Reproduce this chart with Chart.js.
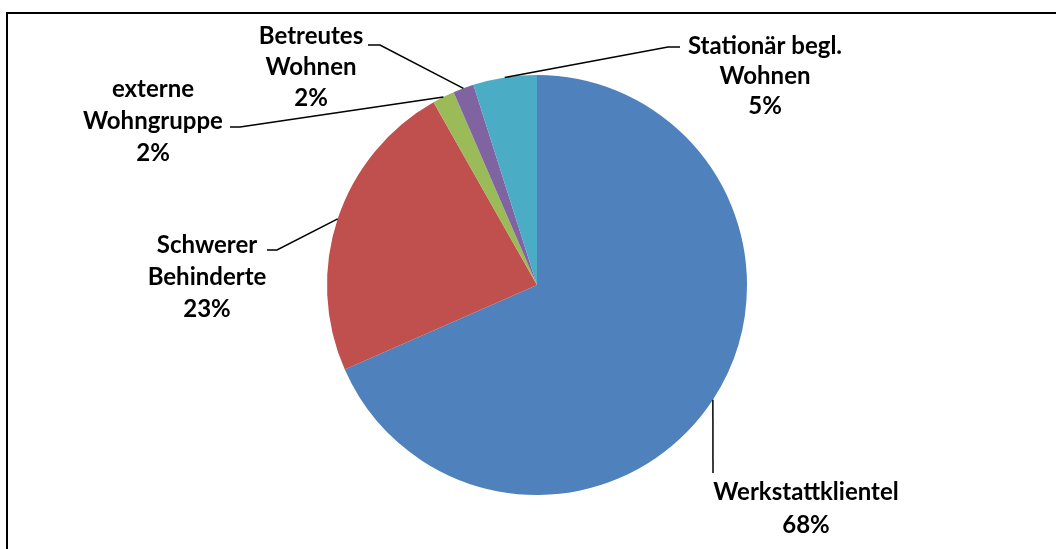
<!DOCTYPE html>
<html>
<head>
<meta charset="utf-8">
<script src="https://cdn.jsdelivr.net/npm/chart.js@4/dist/chart.umd.min.js"></script>
<style>
  html, body { margin: 0; padding: 0; background: #fff; }
  #wrap { width: 1056px; height: 549px; position: relative; }
</style>
</head>
<body>
<div id="wrap"><canvas id="pieChart"></canvas></div>
<script>
  const categories = [
    ["Werkstattklientel"],
    ["Schwerer", "Behinderte"],
    ["externe", "Wohngruppe"],
    ["Betreutes", "Wohnen"],
    ["Station\u00e4r begl.", "Wohnen"],
  ];
  const shares = [68.4, 23.4, 1.7, 1.6, 4.9];
  const sliceColors = ["#4F81BD", "#C0504D", "#9BBB59", "#8064A2", "#4BACC6"];

  // label placement: elbow of leader line, end of line, text centre x, first line y
  const labelSpots = [
    { elbow: [713, 473], end: [713, 473], tx: 806, ty: 492, gap: 33 },
    { elbow: [277, 250], end: [267, 250], tx: 207, ty: 245, gap: 32 },
    { elbow: [240, 127], end: [230, 127], tx: 153, ty: 89, gap: 32 },
    { elbow: [380, 45], end: [368, 45], tx: 311, ty: 36, gap: 31 },
    { elbow: [668, 47], end: [680, 47], tx: 765, ty: 46, gap: 30 },
  ];

  const labelPlugin = {
    id: "leaderLabels",
    afterDraw(chart) {
      const ctx = chart.ctx;
      const arcs = chart.getDatasetMeta(0).data;
      const total = shares.reduce((a, b) => a + b, 0);
      ctx.save();
      // outer frame
      ctx.strokeStyle = "#000";
      ctx.lineWidth = 2;
      ctx.strokeRect(7, 13, 1070, 560);
      ctx.lineWidth = 1.5;
      ctx.font = "bold 24px Lato, 'Open Sans', sans-serif";
      ctx.fillStyle = "#000";
      ctx.textAlign = "center";
      ctx.textBaseline = "middle";
      arcs.forEach((arc, i) => {
        const mid = (arc.startAngle + arc.endAngle) / 2;
        const sx = arc.x + Math.cos(mid) * arc.outerRadius;
        const sy = arc.y + Math.sin(mid) * arc.outerRadius;
        const spot = labelSpots[i];
        ctx.beginPath();
        ctx.moveTo(sx, sy);
        ctx.lineTo(spot.elbow[0], spot.elbow[1]);
        ctx.lineTo(spot.end[0], spot.end[1]);
        ctx.stroke();
        const lines = categories[i].concat(Math.round(shares[i] / total * 100) + "%");
        lines.forEach((t, k) => {
          ctx.fillText(t, spot.tx, spot.ty + k * spot.gap);
        });
      });
      ctx.restore();
    },
  };

  new Chart(document.getElementById("pieChart"), {
    type: "pie",
    data: {
      labels: categories.map((c) => c.join(" ")),
      datasets: [
        {
          data: shares,
          backgroundColor: sliceColors,
          borderWidth: 0,
        },
      ],
    },
    options: {
      responsive: true,
      maintainAspectRatio: false,
      animation: false,
      layout: { padding: { left: 327, right: 309, top: 75, bottom: 54 } },
      plugins: {
        legend: { display: false },
        tooltip: { enabled: false },
      },
    },
    plugins: [labelPlugin],
  });
</script>
</body>
</html>
